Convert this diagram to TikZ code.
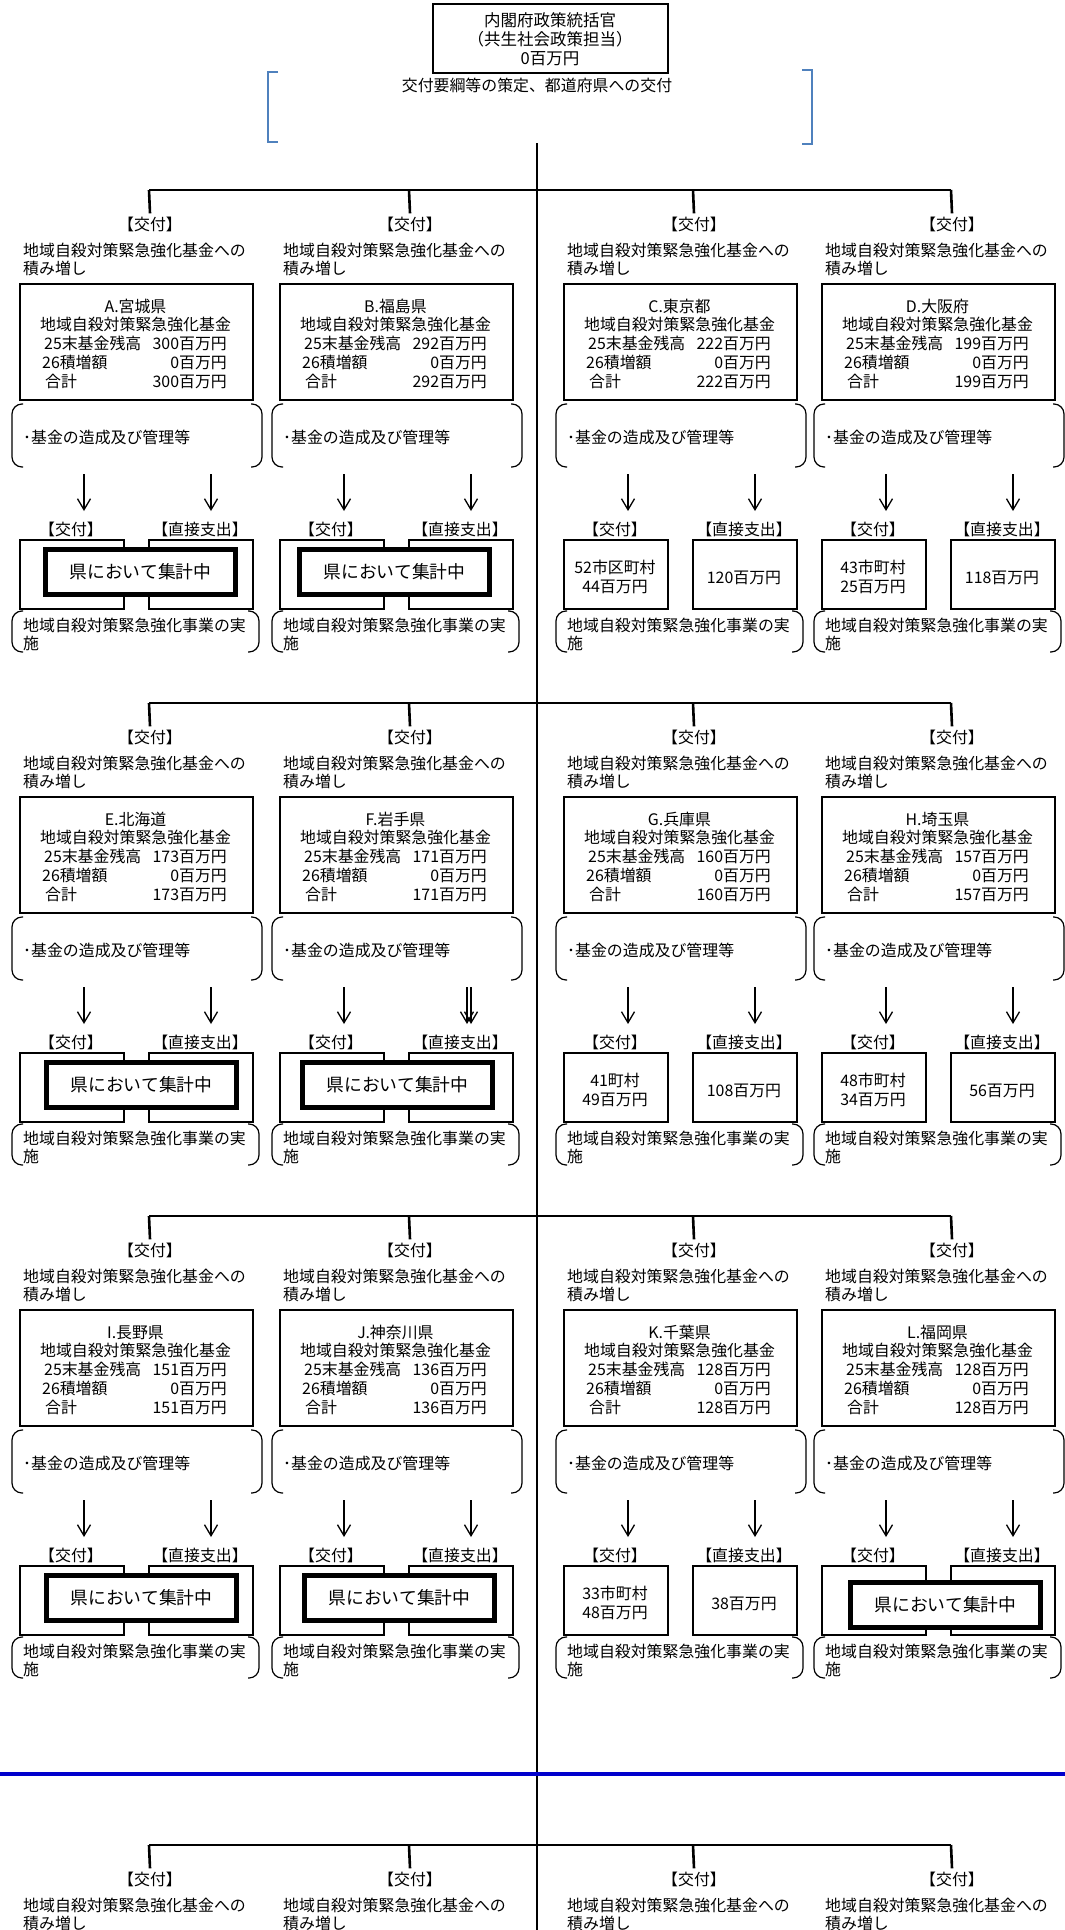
\documentclass[tikz,border=0pt]{standalone}
\usepackage{fontspec}
\newfontfamily\jp{Noto Sans CJK JP}
\usetikzlibrary{arrows.meta}

\definecolor{bracketblue}{RGB}{79,129,189}
\definecolor{ruleblue}{RGB}{0,0,204}

\newcommand{\jsize}{\jp\fontsize{15.9}{19}\selectfont}

\tikzset{
  line/.style={line width=2.6pt},
  frame/.style={draw, line width=2.4pt, inner sep=0pt},
  heavy/.style={draw, line width=5pt, fill=white, inner sep=0pt},
  brk/.style={line width=1.2pt, rounded corners=10pt},
  arr/.style={line width=1.3pt, -{Straight Barb[length=11pt,width=13pt]}},
  txt/.style={inner sep=0pt, font=\jsize},
}

% drop line and heading of one prefecture
\newcommand{\fundhead}[3]{%
\begin{scope}[shift={(#2,#3)}]
\coordinate (#1-top) at (130,190);
\node[txt, anchor=base] (#1-kofu) at (131,230) {【交付】};
\draw[line] (#1-top) -- ([yshift=3pt]#1-kofu.north);
\node[txt, anchor=base west] (#1-add1) at (4,256) {地域自殺対策緊急強化基金への};
\node[txt, anchor=base west] (#1-add2) at (4,274) {積み増し};
\end{scope}}

% fund box of one prefecture
\newcommand{\fundbox}[6]{%
\begin{scope}[shift={(#2,#3)}]
\node[frame, anchor=north west, minimum width=233pt, minimum height=116pt] (#1-fund) at (0,283) {};
\node[txt, anchor=base] (#1-name) at (116.5,312) {#4};
\node[txt, anchor=base] (#1-fname) at (116.5,330) {地域自殺対策緊急強化基金};
\node[txt, anchor=base west] (#1-l1) at (25,349) {25末基金残高};
\node[txt, anchor=base east] (#1-v1) at (208,349) {#5百万円};
\node[txt, anchor=base west] (#1-l2) at (23,368) {26積増額};
\node[txt, anchor=base east] (#1-v2) at (208,368) {0百万円};
\node[txt, anchor=base west] (#1-l3) at (26,387) {合計};
\node[txt, anchor=base east] (#1-v3) at (208,387) {#6百万円};
\draw[brk] (4,404) -- (-7,404) -- (-7,467) -- (4,467);
\draw[brk] (232,404) -- (243,404) -- (243,467) -- (232,467);
\node[txt, anchor=base west] (#1-work) at (4,443) {･基金の造成及び管理等};
\end{scope}}

% arrows, spending boxes and project bracket
\newcommand{\spendpanel}[3]{%
\begin{scope}[shift={(#2,#3)}]
\coordinate (#1-s1) at (65,474);
\coordinate (#1-e1) at (65,511);
\coordinate (#1-s2) at (192,474);
\coordinate (#1-e2) at (192,511);
\draw[arr] (#1-s1) -- (#1-e1);
\draw[arr] (#1-s2) -- (#1-e2);
\node[txt, anchor=base] (#1-lk) at (52,535) {【交付】};
\node[txt, anchor=base] (#1-ld) at (181,535) {【直接支出】};
\node[frame, anchor=north west, minimum width=104pt, minimum height=69pt] (#1-grant) at (0,539) {};
\node[frame, anchor=north west, minimum width=104pt, minimum height=69pt] (#1-direct) at (129,539) {};
\draw[brk] (4,611) -- (-7,611) -- (-7,652) -- (4,652);
\draw[brk] (229,611) -- (240,611) -- (240,652) -- (229,652);
\node[txt, anchor=base west] (#1-impl1) at (4,631) {地域自殺対策緊急強化事業の実};
\node[txt, anchor=base west] (#1-impl2) at (4,649) {施};
\end{scope}}

% prefecture still counting
\newcommand{\pending}[5]{%
\begin{scope}[shift={(#2,#3)}]
\node[heavy, anchor=north west, minimum width=190pt, minimum height=45pt,
  font=\jp\fontsize{17.8}{20}\selectfont] (#1-tally) at (#4,#5) {県において集計中};
\end{scope}}

% prefecture with known amounts
\newcommand{\granted}[6]{%
\begin{scope}[shift={(#2,#3)}]
\node[txt, anchor=base] (#1-muni) at (52,573) {#4};
\node[txt, anchor=base] (#1-gamt) at (52,592) {#5百万円};
\node[txt, anchor=base] (#1-damt) at (181,583) {#6百万円};
\end{scope}}

\begin{document}
\begin{tikzpicture}[x=1pt,y=-1pt]
\useasboundingbox (0,0) rectangle (1065,1930);
\clip (0,0) rectangle (1065,1930);

% head office
\node[frame, anchor=north west, minimum width=235pt, minimum height=69pt] (office) at (432,3) {};
\node[txt, anchor=base, font=\jp\fontsize{16.5}{19}\selectfont] (office1) at (550,26) {内閣府政策統括官};
\node[txt, anchor=base, font=\jp\fontsize{16.5}{19}\selectfont] (office2) at (550,45) {（共生社会政策担当）};
\node[txt, anchor=base, font=\jp\fontsize{16.5}{19}\selectfont] (office3) at (550,64) {0百万円};
\node[txt, anchor=base] (task) at (537,91) {交付要綱等の策定、都道府県への交付};
\draw[bracketblue, line width=1.3pt] (278,72) -- (268,72) -- (268,142) -- (278,142);
\draw[bracketblue, line width=1.3pt] (802,70) -- (812,70) -- (812,144) -- (802,144);
\coordinate (spine-top) at (537,143);
\coordinate (spine-end) at (537,1930);
\draw[line] (spine-top) -- (spine-end);

% row 1
\fundhead{A}{19}{0} \fundhead{B}{279}{0} \fundhead{C}{563}{0} \fundhead{D}{821}{0}
\draw[line] (A-top) -- (D-top);
\fundbox{A}{19}{0}{A.宮城県}{300}{300}
\fundbox{B}{279}{0}{B.福島県}{292}{292}
\fundbox{C}{563}{0}{C.東京都}{222}{222}
\fundbox{D}{821}{0}{D.大阪府}{199}{199}
\spendpanel{A}{19}{0} \spendpanel{B}{279}{0} \spendpanel{C}{563}{0} \spendpanel{D}{821}{0}
\pending{A}{19}{0}{24}{547}
\pending{B}{279}{0}{18}{547}
\granted{C}{563}{0}{52市区町村}{44}{120}
\granted{D}{821}{0}{43市町村}{25}{118}

% row 2
\fundhead{E}{19}{513} \fundhead{F}{279}{513} \fundhead{G}{563}{513} \fundhead{H}{821}{513}
\draw[line] (E-top) -- (H-top);
\fundbox{E}{19}{513}{E.北海道}{173}{173}
\fundbox{F}{279}{513}{F.岩手県}{171}{171}
\fundbox{G}{563}{513}{G.兵庫県}{160}{160}
\fundbox{H}{821}{513}{H.埼玉県}{157}{157}
\spendpanel{E}{19}{513} \spendpanel{F}{279}{513} \spendpanel{G}{563}{513} \spendpanel{H}{821}{513}
\coordinate (F-s3) at (467,987);
\coordinate (F-e3) at (467,1024);
\draw[arr] (F-s3) -- (F-e3);
\pending{E}{19}{513}{25}{547}
\pending{F}{279}{513}{21}{547}
\granted{G}{563}{513}{41町村}{49}{108}
\granted{H}{821}{513}{48市町村}{34}{56}

% row 3
\fundhead{I}{19}{1026} \fundhead{J}{279}{1026} \fundhead{K}{563}{1026} \fundhead{L}{821}{1026}
\draw[line] (I-top) -- (L-top);
\fundbox{I}{19}{1026}{I.長野県}{151}{151}
\fundbox{J}{279}{1026}{J.神奈川県}{136}{136}
\fundbox{K}{563}{1026}{K.千葉県}{128}{128}
\fundbox{L}{821}{1026}{L.福岡県}{128}{128}
\spendpanel{I}{19}{1026} \spendpanel{J}{279}{1026} \spendpanel{K}{563}{1026} \spendpanel{L}{821}{1026}
\pending{I}{19}{1026}{25}{547}
\pending{J}{279}{1026}{23}{547}
\granted{K}{563}{1026}{33市町村}{48}{38}
\pending{L}{821}{1026}{27}{554}

% page break
\coordinate (cut-l) at (0,1774);
\coordinate (cut-r) at (1065,1774);
\draw[ruleblue, line width=3.5pt] (cut-l) -- (cut-r);

% row 4
\fundhead{M}{19}{1655} \fundhead{N}{279}{1655} \fundhead{O}{563}{1655} \fundhead{P}{821}{1655}
\draw[line] (M-top) -- (P-top);
\end{tikzpicture}
\end{document}
